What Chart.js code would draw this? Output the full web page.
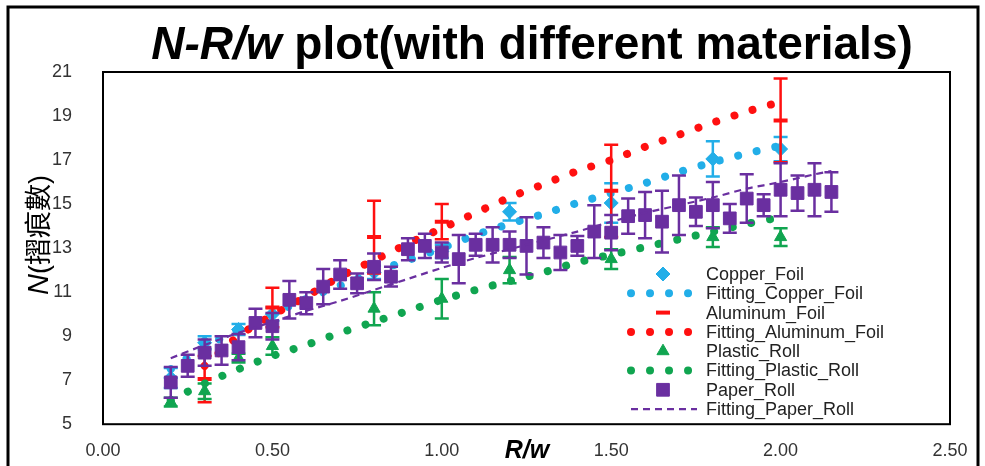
<!DOCTYPE html>
<html>
<head>
<meta charset="utf-8">
<script src="https://cdn.jsdelivr.net/npm/chart.js@4.4.1/dist/chart.umd.min.js"></script>
<style>
  html, body { margin: 0; background: #fff; }
  canvas { display: block; }
</style>
</head>
<body>
<canvas id="chart" width="985" height="466"></canvas>
<script>
// --- data ---
const copperX = [0.2, 0.3, 0.4, 0.5, 0.8, 1.0, 1.2, 1.5, 1.8, 2.0];
const copperN = [7.1, 8.7, 9.3, 10.0, 11.9, 12.85, 14.65, 15.05, 17.05, 17.5];
const copperErr = [0.45, 0.3, 0.25, 0.3, 0.3, 0.3, 0.4, 0.9, 0.8, 0.55];

const aluminumX = [0.3, 0.5, 0.8, 1.0, 1.5, 2.0];
const aluminumN = [7.05, 10.3, 13.5, 14.2, 15.6, 18.8];
const aluminumErr = [1.05, 0.9, 1.65, 0.8, 2.1, 1.9];

const plasticX = [0.2, 0.3, 0.4, 0.5, 0.8, 1.0, 1.2, 1.5, 1.8, 2.0];
const plasticN = [6.0, 6.5, 8.0, 8.55, 10.25, 10.7, 12.0, 12.5, 13.5, 13.5];
const plasticErr = [0.2, 0.35, 0.2, 0.4, 0.75, 0.9, 0.6, 0.45, 0.45, 0.4];

const paperX = [0.20, 0.25, 0.30, 0.35, 0.40, 0.45, 0.50, 0.55, 0.60, 0.65,
                0.70, 0.75, 0.80, 0.85, 0.90, 0.95, 1.00, 1.05, 1.10, 1.15,
                1.20, 1.25, 1.30, 1.35, 1.40, 1.45, 1.50, 1.55, 1.60, 1.65,
                1.70, 1.75, 1.80, 1.85, 1.90, 1.95, 2.00, 2.05, 2.10, 2.15];
const paperN = [6.9, 7.65, 8.25, 8.35, 8.5, 9.6, 9.45, 10.65, 10.5, 11.25,
                11.8, 11.4, 12.15, 11.7, 12.95, 13.1, 12.8, 12.5, 13.15, 13.15,
                13.15, 13.1, 13.25, 12.8, 13.1, 13.75, 13.7, 14.45, 14.5, 14.2,
                14.95, 14.65, 14.95, 14.35, 15.25, 14.95, 15.65, 15.5, 15.65, 15.55];
const paperErr = [0.7, 0.5, 0.6, 0.65, 0.6, 0.65, 0.6, 0.85, 0.5, 0.8,
                  0.65, 0.45, 0.6, 0.45, 0.5, 0.55, 0.45, 1.1, 0.5, 0.8,
                  0.6, 1.3, 0.7, 0.8, 0.45, 1.2, 0.8, 0.8, 1.05, 1.4,
                  1.35, 0.65, 1.05, 0.65, 1.1, 0.5, 1.2, 0.8, 1.2, 0.9];

// fitting curves (read at 0.1 steps)
const fitX = [0.2, 0.3, 0.4, 0.5, 0.6, 0.7, 0.8, 0.9, 1.0, 1.1,
              1.2, 1.3, 1.4, 1.5, 1.6, 1.7, 1.8, 1.9, 2.0];
const copperFit = [7.5, 8.5, 9.3, 10.0, 10.7, 11.3, 11.9, 12.45, 13.0, 13.6,
                   14.1, 14.55, 15.05, 15.5, 15.95, 16.45, 16.9, 17.3, 17.65];
const aluminumFitX = [0.3, 0.4, 0.5, 0.6, 0.7, 0.8, 0.9, 1.0, 1.1, 1.2,
                      1.3, 1.4, 1.5, 1.6, 1.7, 1.8, 1.9, 2.0];
const aluminumFit = [7.65, 9.0, 9.95, 10.8, 11.7, 12.45, 13.2, 13.9, 14.6, 15.3,
                     15.9, 16.5, 17.0, 17.6, 18.15, 18.7, 19.2, 19.65];
const plasticFit = [6.1, 6.85, 7.5, 8.1, 8.6, 9.15, 9.65, 10.15, 10.65, 11.1,
                    11.5, 11.9, 12.35, 12.7, 13.05, 13.4, 13.75, 14.1, 14.4];
const paperFitX = [0.2, 0.3, 0.4, 0.5, 0.6, 0.7, 0.8, 0.9, 1.0, 1.1,
                   1.2, 1.3, 1.4, 1.5, 1.6, 1.7, 1.8, 1.9, 2.0, 2.1, 2.15];
const paperFit = [8.0, 8.6, 9.15, 9.65, 10.15, 10.6, 11.1, 11.6, 12.1, 12.55,
                  12.95, 13.35, 13.75, 14.2, 14.6, 14.95, 15.3, 15.7, 16.0, 16.35, 16.5];

const xTicks = [0, 0.5, 1.0, 1.5, 2.0, 2.5];
const yTicks = [5, 7, 9, 11, 13, 15, 17, 19, 21];

const BLUE = '#22aee8', RED = '#ff1010', GREEN = '#10a550', PURPLE = '#6a2fa0';
const FONT = '"Liberation Sans", Arial, "Noto Sans CJK TC", sans-serif';

const pts = (xs, ys) => xs.map((x, i) => ({ x, y: ys[i] }));

function markers(label, xs, ys, errs, color, style, radius, order) {
  return {
    label, data: pts(xs, ys), errors: errs, order,
    showLine: false, pointStyle: style, pointRadius: radius,
    pointBackgroundColor: color, pointBorderColor: color,
    pointBorderWidth: style === 'line' ? 4 : 1, borderColor: color
  };
}
function fit(label, xs, ys, color, dash, width, order) {
  return {
    label, data: pts(xs, ys), order, showLine: true, pointRadius: 0,
    borderColor: color, borderWidth: width, borderDash: dash,
    borderCapStyle: dash[0] < 1 ? 'round' : 'butt', tension: 0.3, fill: false
  };
}

const datasets = [
  markers('Copper_Foil', copperX, copperN, copperErr, BLUE, 'rectRot', 7, 8),
  fit('Fitting_Copper_Foil', fitX, copperFit, BLUE, [0.01, 19], 8, 7),
  markers('Aluminum_Foil', aluminumX, aluminumN, aluminumErr, RED, 'line', 7, 6),
  fit('Fitting_Aluminum_Foil', aluminumFitX, aluminumFit, RED, [0.01, 19], 8, 5),
  markers('Plastic_Roll', plasticX, plasticN, plasticErr, GREEN, 'triangle', 7, 4),
  fit('Fitting_Plastic_Roll', fitX, plasticFit, GREEN, [0.01, 19], 8, 3),
  markers('Paper_Roll', paperX, paperN, paperErr, PURPLE, 'rect', 9, 2),
  fit('Fitting_Paper_Roll', paperFitX, paperFit, PURPLE, [7, 5], 2.2, 1)
];

// error bars under each marker series
const errorBars = {
  id: 'errorBars',
  beforeDatasetDraw(chart, args) {
    const ds = chart.data.datasets[args.index];
    if (!ds.errors) return;
    const { ctx, scales: { x, y } } = chart;
    ctx.save();
    ctx.strokeStyle = ds.borderColor;
    ctx.lineWidth = 2.5;
    ds.data.forEach((p, i) => {
      const e = ds.errors[i];
      const px = x.getPixelForValue(p.x);
      const top = y.getPixelForValue(p.y + e), bot = y.getPixelForValue(p.y - e);
      ctx.beginPath();
      ctx.moveTo(px, top); ctx.lineTo(px, bot);
      ctx.moveTo(px - 7, top); ctx.lineTo(px + 7, top);
      ctx.moveTo(px - 7, bot); ctx.lineTo(px + 7, bot);
      ctx.stroke();
    });
    ctx.restore();
  }
};

function drawRich(ctx, segs, x, y, angle) {
  ctx.save();
  ctx.translate(x, y);
  ctx.rotate(angle || 0);
  ctx.textBaseline = 'alphabetic';
  ctx.textAlign = 'left';
  let w = 0;
  segs.forEach(g => { ctx.font = g.font; w += ctx.measureText(g.text).width; });
  let cx = -w / 2;
  segs.forEach(g => {
    ctx.font = g.font;
    ctx.fillStyle = g.color || '#000';
    ctx.fillText(g.text, cx, 0);
    cx += ctx.measureText(g.text).width;
  });
  ctx.restore();
}

// frame, plot box, titles and legend
const decor = {
  id: 'decor',
  beforeDraw(chart) {
    const ctx = chart.ctx;
    ctx.save();
    ctx.fillStyle = '#fff';
    ctx.fillRect(0, 0, chart.width, chart.height);
    ctx.restore();
  },
  afterDraw(chart) {
    const { ctx, chartArea: a } = chart;
    ctx.save();
    ctx.strokeStyle = '#000';
    ctx.lineWidth = 3;
    ctx.strokeRect(8, 7, 970, 480);
    ctx.lineWidth = 2;
    ctx.strokeRect(a.left, a.top, a.right - a.left, a.bottom - a.top);
    ctx.restore();

    drawRich(ctx, [
      { text: 'N-R/w', font: 'italic bold 46px ' + FONT },
      { text: ' plot(with different materials)', font: 'bold 46px ' + FONT }
    ], 532, 59);
    drawRich(ctx, [{ text: 'R/w', font: 'italic bold 25px ' + FONT }], 527, 458);
    drawRich(ctx, [
      { text: 'N', font: 'italic 29px ' + FONT },
      { text: '(摺痕數)', font: '27px ' + FONT }
    ], 48, 235, -Math.PI / 2);

    // legend
    ctx.save();
    chart.data.datasets.forEach((ds, i) => {
      const y = 274 + i * 19.3;
      if (ds.showLine) {
        ctx.save();
        ctx.strokeStyle = ds.borderColor;
        ctx.lineWidth = ds.borderWidth;
        ctx.lineCap = ds.borderCapStyle;
        ctx.setLineDash(ds.borderDash);
        ctx.beginPath();
        ctx.moveTo(631, y); ctx.lineTo(697, y);
        ctx.stroke();
        ctx.restore();
      } else {
        ctx.fillStyle = ds.pointBackgroundColor;
        ctx.strokeStyle = ds.pointBorderColor;
        ctx.lineWidth = ds.pointBorderWidth;
        Chart.helpers.drawPoint(ctx, {
          pointStyle: ds.pointStyle, radius: ds.pointRadius, rotation: 0,
          borderWidth: ds.pointBorderWidth
        }, 663, y);
      }
      ctx.fillStyle = '#222';
      ctx.font = '18px ' + FONT;
      ctx.textBaseline = 'middle';
      ctx.textAlign = 'left';
      ctx.fillText(ds.label, 706, y + 1);
    });
    ctx.restore();
  }
};

new Chart(document.getElementById('chart'), {
  type: 'scatter',
  data: { datasets },
  plugins: [errorBars, decor],
  options: {
    responsive: false,
    animation: false,
    devicePixelRatio: 1,
    layout: { padding: { left: 0, top: 72, right: 35, bottom: 0 } },
    plugins: { legend: { display: false }, tooltip: { enabled: false }, title: { display: false } },
    scales: {
      x: {
        type: 'linear', min: 0, max: 2.5,
        afterBuildTicks: s => { s.ticks = xTicks.map(v => ({ value: v })); },
        afterFit: s => { s.height = 41; },
        grid: { display: false, drawTicks: false },
        border: { display: false },
        ticks: { color: '#333', padding: 16, font: { family: FONT, size: 18 }, callback: v => v.toFixed(2) }
      },
      y: {
        type: 'linear', min: 5, max: 21,
        afterBuildTicks: s => { s.ticks = yTicks.map(v => ({ value: v })); },
        afterFit: s => { s.width = 103; },
        grid: { display: false, drawTicks: false },
        border: { display: false },
        ticks: { color: '#333', padding: 31, font: { family: FONT, size: 18 } }
      }
    }
  }
});
</script>
</body>
</html>
